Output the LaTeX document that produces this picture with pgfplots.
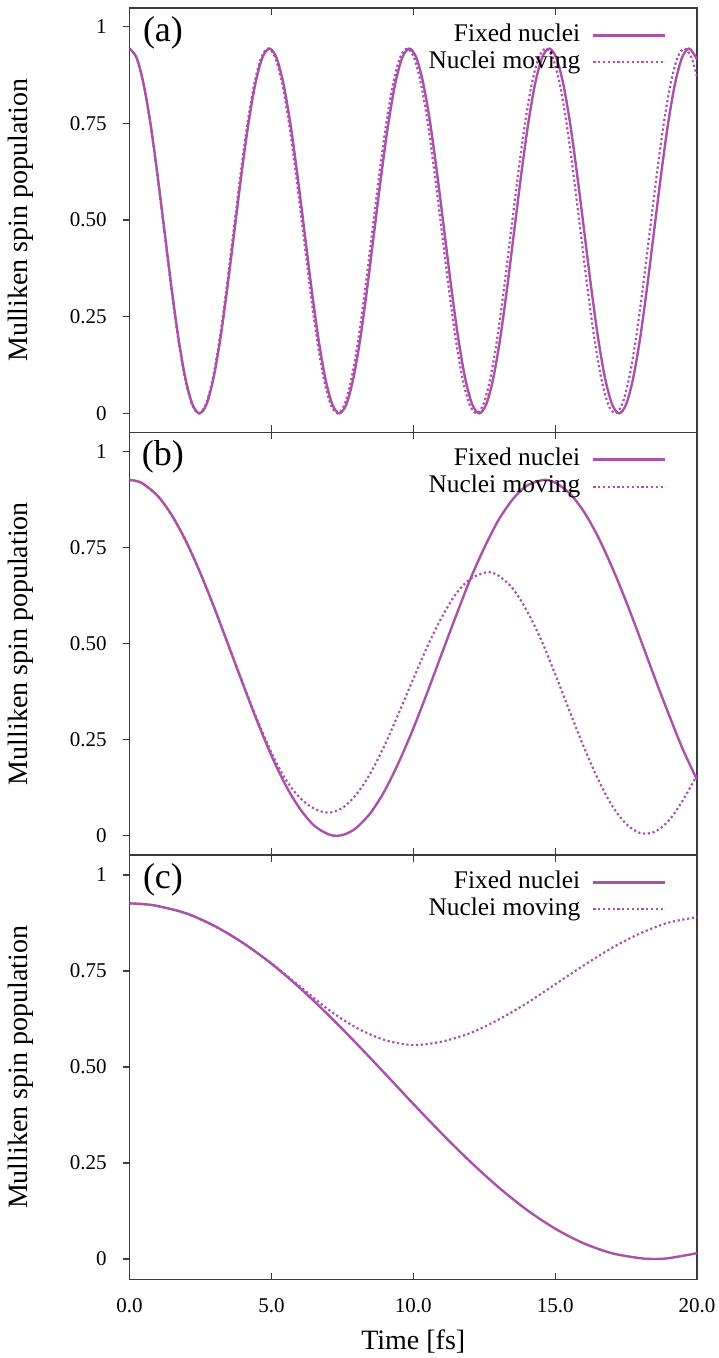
\documentclass[border=0pt]{standalone}
\usepackage{pgfplots}
\pgfplotsset{compat=1.18}
\usepackage{fontspec}
\setmainfont{Liberation Serif}

\definecolor{spin}{RGB}{170,82,170}
\definecolor{framegray}{RGB}{60,60,60}

\pgfplotsset{
  panel/.style={
    scale only axis,
    width=283.75pt,
    xmin=0, xmax=20,
    xtick={0,5,10,15,20},
    xtick pos=both,
    ytick={0,0.25,0.5,0.75,1},
    yticklabels={0,0.25,0.50,0.75,1},
    ytick pos=left,
    tick align=inside,
    major tick length=3.5pt,
    y tick style={xshift=-3.5pt},
    axis line style={framegray, line width=0.6pt},
    every tick/.style={framegray, line width=0.6pt},
    /pgf/number format/assume math mode=true,
    tick label style={font=\fontsize{10.5}{12}\selectfont},
    yticklabel style={inner sep=0pt, xshift=-11.25pt},
    xticklabel style={inner sep=0pt, yshift=-9pt},
    every axis y label/.style={at={(rel axis cs:0,0.5)}, xshift=-54.5pt, rotate=90, anchor=center, font=\fontsize{14}{16}\selectfont},
    every axis x label/.style={at={(rel axis cs:0.5,0)}, yshift=-31pt, anchor=center, font=\fontsize{14}{16}\selectfont},
    ylabel={Mulliken spin population},
    legend cell align=right,
    legend plot pos=right,
    legend image code/.code={\draw[##1] (0pt,0pt) -- (36pt,0pt);},
    legend style={at={(rel axis cs:1,1)}, anchor=north east, xshift=-15pt, yshift=-7.5pt,
      draw=none, fill=none, inner sep=0pt, row sep=1.5pt, column sep=6pt,
      font=\fontsize{12.7}{13.5}\selectfont,
      nodes={inner sep=0pt, text height=9pt, text depth=3pt}},
  },
  fixed/.style={spin, line width=1.2pt, smooth},
  moving/.style={spin, line width=1.1pt, dash pattern=on 1.1pt off 1.3pt, smooth},
}

\begin{document}
\begin{tikzpicture}
\path[use as bounding box] (0pt,0pt) rectangle (359pt,679pt);

% (a)
\begin{axis}[panel, at={(64.75pt,462.85pt)}, anchor=south west, height=212.15pt,
  ymin=-0.049, ymax=1.048, xticklabels={}]
\addplot[fixed] coordinates {
(0,0.943)(0.247,0.920)(0.493,0.853)(0.740,0.749)(0.986,0.617)(1.233,0.472)(1.479,0.326)(1.726,0.194)(1.972,0.090)(2.219,0.023)(2.465,0.000)(2.712,0.023)(2.958,0.090)(3.205,0.194)(3.451,0.326)(3.698,0.472)(3.944,0.617)(4.191,0.749)(4.437,0.853)(4.684,0.920)
(4.930,0.943)(5.177,0.920)(5.423,0.853)(5.670,0.749)(5.916,0.617)(6.163,0.472)(6.409,0.326)(6.656,0.194)(6.902,0.090)(7.149,0.023)(7.395,0.000)(7.642,0.023)(7.888,0.090)(8.135,0.194)(8.381,0.326)(8.628,0.472)(8.874,0.617)(9.121,0.749)(9.367,0.853)(9.614,0.920)
(9.860,0.943)(10.107,0.920)(10.353,0.853)(10.600,0.749)(10.846,0.617)(11.093,0.472)(11.339,0.326)(11.586,0.194)(11.832,0.090)(12.079,0.023)(12.325,0.000)(12.572,0.023)(12.818,0.090)(13.065,0.194)(13.311,0.326)(13.558,0.472)(13.804,0.617)(14.051,0.749)(14.297,0.853)(14.544,0.920)
(14.790,0.943)(15.037,0.920)(15.283,0.853)(15.530,0.749)(15.776,0.617)(16.023,0.472)(16.269,0.326)(16.516,0.194)(16.762,0.090)(17.009,0.023)(17.255,0.000)(17.502,0.023)(17.748,0.090)(17.995,0.194)(18.241,0.326)(18.488,0.472)(18.734,0.617)(18.981,0.749)(19.227,0.853)(19.474,0.920)
(19.720,0.943)(19.967,0.920)(20.0,0.913)};
\addlegendentry{Fixed nuclei}
\addplot[moving] coordinates {
(0,0.943)(0.245,0.920)(0.489,0.853)(0.734,0.749)(0.978,0.617)(1.223,0.472)(1.467,0.326)(1.712,0.194)(1.956,0.090)(2.201,0.023)(2.445,0.000)(2.690,0.023)(2.934,0.090)(3.179,0.194)(3.423,0.326)(3.668,0.472)(3.912,0.617)(4.157,0.749)(4.401,0.853)(4.646,0.920)
(4.890,0.943)(5.135,0.920)(5.379,0.853)(5.624,0.749)(5.868,0.617)(6.113,0.472)(6.357,0.326)(6.602,0.194)(6.846,0.090)(7.091,0.023)(7.335,0.000)(7.580,0.023)(7.824,0.090)(8.069,0.194)(8.313,0.326)(8.558,0.472)(8.802,0.617)(9.047,0.749)(9.291,0.853)(9.536,0.920)
(9.780,0.943)(10.025,0.920)(10.269,0.853)(10.514,0.749)(10.758,0.617)(11.003,0.472)(11.247,0.326)(11.492,0.194)(11.736,0.090)(11.981,0.023)(12.225,0.000)(12.470,0.023)(12.714,0.090)(12.959,0.194)(13.203,0.326)(13.448,0.472)(13.692,0.617)(13.937,0.749)(14.181,0.853)(14.426,0.920)
(14.670,0.943)(14.915,0.920)(15.159,0.853)(15.404,0.749)(15.648,0.617)(15.893,0.472)(16.137,0.326)(16.382,0.194)(16.626,0.090)(16.871,0.023)(17.115,0.000)(17.360,0.023)(17.604,0.090)(17.849,0.194)(18.093,0.326)(18.338,0.472)(18.582,0.617)(18.827,0.749)(19.071,0.853)(19.316,0.920)
(19.560,0.943)(19.805,0.920)(20.0,0.870)};
\addlegendentry{Nuclei moving}
\node[font=\fontsize{18}{20}\selectfont] at (axis description cs:0.059,0.941) {(a)};
\end{axis}

% (b)
\begin{axis}[panel, at={(64.75pt,251.5pt)}, anchor=south west, height=211.35pt,
  ymin=-0.050, ymax=1.050, xticklabels={}]
\addplot[fixed] coordinates {
(0,0.926)(0.25,0.923)(0.5,0.915)(1,0.884)(1.5,0.833)(2,0.765)(2.5,0.683)(3,0.591)(3.5,0.493)(4,0.394)(4.5,0.298)(5,0.209)(5.5,0.132)(6,0.071)(6.5,0.027)(7,0.004)(7.3,0.000)(7.6,0.004)(8,0.021)(8.5,0.060)(9,0.118)(9.5,0.193)(10,0.279)(10.5,0.374)(11,0.473)(11.5,0.571)(12,0.666)(12.5,0.749)(13,0.821)(13.5,0.875)(14,0.911)(14.6,0.926)(15,0.919)(15.5,0.892)(16,0.845)(16.5,0.780)(17,0.700)(17.5,0.610)(18,0.513)(18.5,0.413)(19,0.317)(19.5,0.225)(20,0.146)};
\addlegendentry{Fixed nuclei}
\addplot[moving] coordinates {
(0,0.926)(0.25,0.923)(0.5,0.915)(1,0.884)(1.5,0.833)(2,0.765)(2.5,0.683)(3,0.591)(3.5,0.493)(4,0.396)(4.5,0.302)(5,0.217)(5.5,0.147)(6,0.099)(6.5,0.071)(7,0.060)(7.5,0.072)(8,0.108)(8.5,0.164)(9,0.237)(9.5,0.321)(10,0.408)(10.5,0.493)(11,0.568)(11.5,0.629)(12,0.668)(12.6,0.686)(13,0.677)(13.5,0.644)(14,0.586)(14.5,0.511)(15,0.421)(15.5,0.326)(16,0.233)(16.5,0.149)(17,0.079)(17.5,0.031)(18,0.007)(18.5,0.010)(19,0.039)(19.5,0.092)(20,0.158)};
\addlegendentry{Nuclei moving}
\node[font=\fontsize{18}{20}\selectfont] at (axis description cs:0.059,0.941) {(b)};
\end{axis}

% (c)
\begin{axis}[panel, at={(64.75pt,39.15pt)}, anchor=south west, height=212.35pt,
  ymin=-0.054, ymax=1.052,
  xticklabels={0.0,5.0,10.0,15.0,20.0},
  xlabel={Time [fs]}]
\addplot[fixed] coordinates {
(0,0.926)(0.5,0.924)(1,0.919)(2,0.900)(3,0.867)(4,0.823)(5,0.769)(6,0.706)(7,0.636)(8,0.561)(9,0.483)(10,0.404)(11,0.327)(12,0.254)(13,0.187)(14,0.128)(15,0.079)(16,0.041)(17,0.015)(18,0.002)(18.5,0.000)(19,0.002)(20,0.015)};
\addlegendentry{Fixed nuclei}
\addplot[moving] coordinates {
(0,0.926)(0.5,0.924)(1,0.919)(2,0.900)(3,0.867)(4,0.823)(5,0.770)(6,0.710)(7,0.650)(8,0.602)(9,0.570)(10,0.557)(11,0.566)(12,0.588)(13,0.623)(14,0.666)(15,0.715)(16,0.764)(17,0.810)(18,0.848)(19,0.876)(20,0.890)};
\addlegendentry{Nuclei moving}
\node[font=\fontsize{18}{20}\selectfont] at (axis description cs:0.059,0.941) {(c)};
\end{axis}
\end{tikzpicture}
\end{document}
